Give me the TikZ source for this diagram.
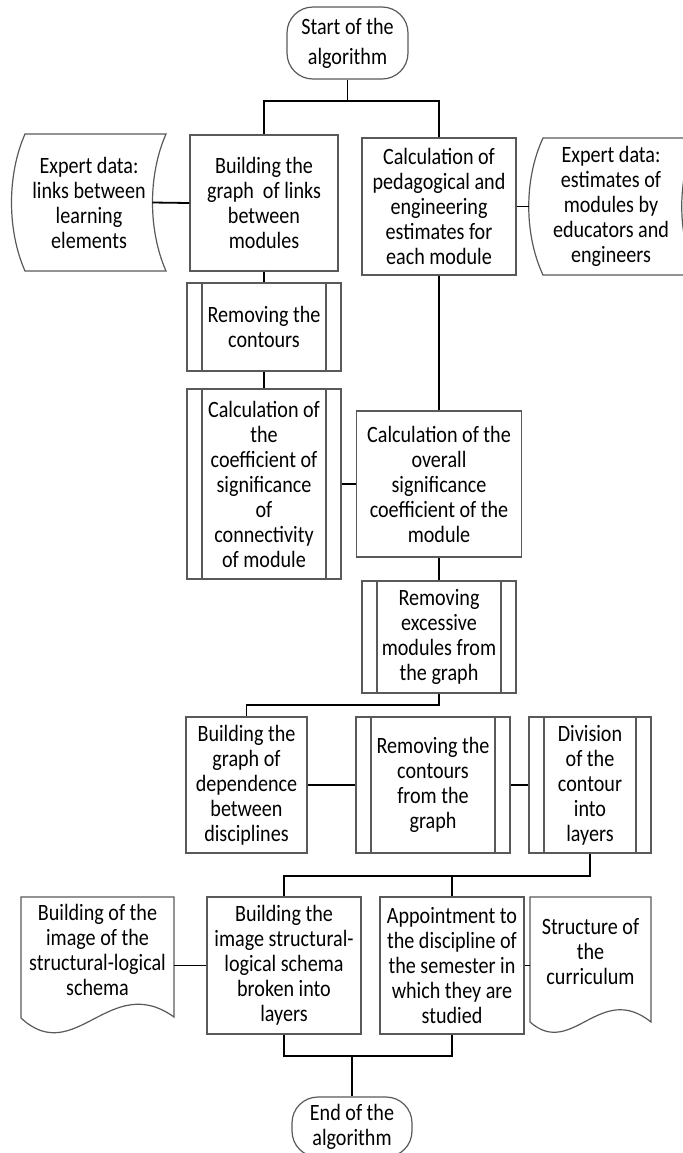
\documentclass[tikz,border=0pt]{standalone}
\usepackage{fontspec}
\setmainfont{Carlito}[FakeStretch=0.86]

\begin{document}
\begin{tikzpicture}[x=0.5pt,y=-0.5pt,
  every node/.style={font=\fontsize{11.7}{12.5}\selectfont,align=center,inner sep=1pt},
  box/.style={draw=black!65,line width=0.6pt,minimum width=77pt,minimum height=68.5pt},
  subproc/.style={box,path picture={
    \draw[black!65,line width=0.6pt]
      ([xshift=7.5pt]path picture bounding box.north west) -- ([xshift=7.5pt]path picture bounding box.south west)
      ([xshift=-7.5pt]path picture bounding box.north east) -- ([xshift=-7.5pt]path picture bounding box.south east);}},
  term/.style={draw=black!65,line width=0.6pt,rounded corners=13pt,minimum width=60.5pt,minimum height=36pt},
  outline/.style={draw=black!65,line width=0.6pt},
  link/.style={line width=0.9pt}]
  \useasboundingbox (0,0) rectangle (683,1153);

  % start and the first two branches
  \node[term,font=\fontsize{11.7}{15}\selectfont] (start) at (347.5,43) {Start of the\\algorithm};
  \node[box,minimum width=74pt,minimum height=68pt] (graph) at (264,203) {Building the\\graph\ \ of links\\between\\modules};
  \node[box] (estim) at (439,206.5) {Calculation of\\pedagogical and\\engineering\\estimates for\\each module};
  \draw[outline] (25,134) .. controls (7,175) and (7,230) .. (25,271) -- (166,271)
    .. controls (148,230) and (148,175) .. (166,134) -- cycle;
  \node[minimum width=63pt] (links) at (89,202.5) {Expert data:\\links between\\learning\\elements};
  \draw[outline] (543,138) .. controls (524,179) and (524,234) .. (543,275) -- (696,275)
    .. controls (677,234) and (677,179) .. (696,138) -- cycle;
  \node[minimum width=82pt] (experts) at (611,206.5) {Expert data:\\estimates of\\modules by\\educators and\\engineers};

  % significance of modules
  \node[subproc,minimum height=44pt] (contours) at (264,327) {Removing the\\contours};
  \node[subproc,minimum height=95pt] (coeff) at (264,484) {Calculation of\\the\\coefficient of\\significance\\of\\connectivity\\of module};
  \node[box,minimum width=82.5pt,minimum height=73pt] (overall) at (439,484) {Calculation of the\\overall\\significance\\coefficient of the\\module};
  \node[subproc,minimum height=56pt] (excess) at (439,637) {Removing\\excessive\\modules from\\the graph};

  % disciplines
  \node[box,minimum width=60.5pt,minimum height=68pt] (depend) at (246.5,785) {Building the\\graph of\\dependence\\between\\disciplines};
  \node[subproc,minimum height=68pt] (nocycle) at (433,785) {Removing the\\contours\\from the\\graph};
  \node[subproc,minimum width=61pt,minimum height=68pt] (layers) at (590,785) {Division\\of the\\contour\\into\\layers};

  % results
  \node[box] (image) at (284,965.5) {Building the\\image structural-\\logical schema\\broken into\\layers};
  \node[box,minimum width=72pt] (semester) at (452,965.5) {Appointment to\\the discipline of\\the semester in\\which they are\\studied};
  \draw[outline] (21,1018) -- (21,897) -- (174,897) -- (174,1017)
    .. controls (110,971) and (75,1068) .. (21,1018);
  \node[minimum width=76.5pt] (schema) at (97.5,950) {Building of the\\image of the\\structural-logical\\schema};
  \draw[outline] (530,1022) -- (530,897) -- (651,897) -- (651,1022)
    .. controls (600,981) and (572,1059) .. (530,1022);
  \node[minimum width=60.5pt] (plan) at (590.5,952) {Structure of\\the\\curriculum};
  \node[term,minimum width=60pt,minimum height=30pt] (end) at (352,1127) {End of the\\algorithm};

  % connectors
  \coordinate (fork1) at (347.5,101);
  \coordinate (fork2) at (439,705);
  \coordinate (fork3) at (590,876);
  \coordinate (join) at (352,1056);
  \draw[link] (start) -- (fork1);
  \draw[link] (graph) |- (fork1) -| (estim);
  \draw[link] (links.east) -- (graph.west);
  \draw[link] (estim.east) -- (experts.west);
  \draw[link] (graph) -- (contours);
  \draw[link] (contours) -- (coeff);
  \draw[link] (estim) -- (overall);
  \draw[link] (coeff) -- (overall);
  \draw[link] (overall) -- (excess);
  \draw[link] (excess) -- (fork2) -| (depend);
  \draw[link] (depend) -- (nocycle);
  \draw[link] (nocycle) -- (layers);
  \draw[link] (layers) -- (fork3) -| (image);
  \draw[link] (semester) -- (semester |- fork3);
  \draw[link] (image.west) -- (image.west -| schema.east);
  \draw[link] (semester.east) -- (semester.east -| plan.west);
  \draw[link] (image) |- (join) -| (semester);
  \draw[link] (join) -- (end);
\end{tikzpicture}
\end{document}
